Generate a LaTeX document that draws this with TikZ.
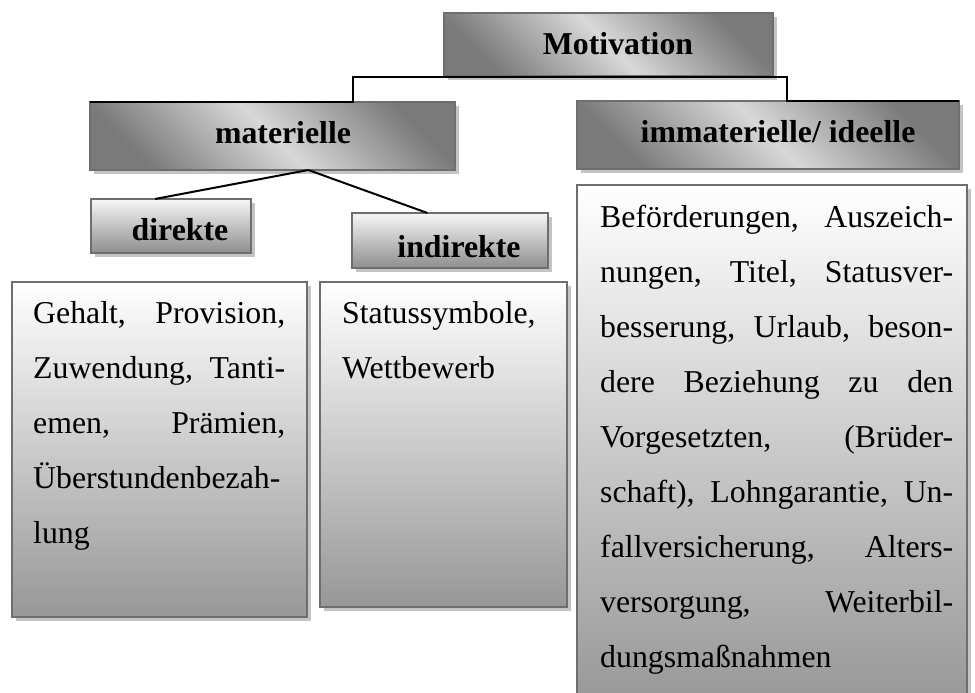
\documentclass[tikz,border=0pt]{standalone}
\usepackage{fontspec}
\setmainfont{Liberation Serif}
\usetikzlibrary{shadows,calc}

\definecolor{hddark}{HTML}{7A7A7A}
\definecolor{hdlight}{HTML}{D8D8D8}
\definecolor{framegray}{HTML}{6E6E6E}
\definecolor{shadowgray}{HTML}{C4C4C4}
\definecolor{subtop}{HTML}{F6F6F6}
\definecolor{subbottom}{HTML}{8E8E8E}
\definecolor{cnttop}{HTML}{FFFFFF}
\definecolor{cntbottom}{HTML}{979797}

% one justified line of a fixed width (words separated by \hfill)
\newcommand{\jl}[2]{\leavevmode\hbox to #1{#2}}

\begin{document}
\begin{tikzpicture}[x=1pt,y=-1pt,
  basebox/.style={draw=framegray, line width=2.5pt, inner sep=0pt, outer sep=0pt, rectangle,
    drop shadow={shadow xshift=4pt, shadow yshift=-4pt, fill=shadowgray, opacity=1}},
  headbox/.style={basebox, top color=hddark, bottom color=hddark, middle color=hdlight, shading angle=-45},
  subbox/.style={basebox, top color=subtop, bottom color=subbottom},
  contentbox/.style={basebox, top color=cnttop, bottom color=cntbottom},
  headtext/.style={font=\fontsize{31.8}{38}\selectfont\bfseries, anchor=base, inner sep=0pt},
  bodytext/.style={font=\fontsize{31.8}{55}\selectfont, anchor=base west, inner sep=0pt, align=left},
  link/.style={draw=black, line width=2pt},
]
\path[use as bounding box] (0,0) rectangle (975,693);
\clip (0,0) rectangle (975,693);
\fill[white] (0,0) rectangle (975,693);

% heading boxes
\node[headbox, minimum width=329pt, minimum height=63pt] (mot) at (608.5,44.5) {};
\node[headbox, minimum width=365pt, minimum height=68pt] (mat) at (272.5,136) {};
\node[headbox, minimum width=382pt, minimum height=68pt] (imm) at (768,135) {};

% second level boxes
\node[subbox, minimum width=160pt, minimum height=54pt] (dir) at (171,226) {};
\node[subbox, minimum width=196pt, minimum height=55pt] (ind) at (450,240.5) {};

% content boxes
\node[contentbox, minimum width=295pt, minimum height=335pt] (dbox) at (159.5,449.5) {};
\node[contentbox, minimum width=247pt, minimum height=325pt] (ibox) at (443.5,444.5) {};
\node[contentbox, minimum width=390pt, minimum height=520pt] (rbox) at (772,445) {};

% connectors
\coordinate (k1) at (353,77);
\coordinate (k2) at (787,77);
\draw[link] (mat.north west) -| (k1) -- (k2) |- (imm.north east);
\coordinate (apex) at ($(mat.south west)!0.598!(mat.south east)$);
\draw[link] (apex) -- ($(dir.north west)!0.4!(dir.north east)$);
\draw[link] (apex) -- ($(ind.north west)!0.385!(ind.north east)$);

% headings
\node[headtext] (motlabel) at (618,55) {Motivation};
\node[headtext] (matlabel) at (283,143) {materielle};
\node[headtext] (immlabel) at (778,142) {immaterielle/ ideelle};
\node[headtext] (dirlabel) at (180,240) {direkte};
\node[headtext] (indlabel) at (459,257) {indirekte};

% body texts
\node[bodytext, text width=252pt] (dtext) at (33,323) {%
\jl{252pt}{Gehalt,\hfill Provision,}\\
\jl{252pt}{Zuwendung,\hfill Tanti-}\\
\jl{252pt}{emen,\hfill Prämien,}\\
Überstundenbezah-\\
lung};
\node[bodytext, text width=210pt] (itext) at (342,323) {%
Statussymbole,\\
Wettbewerb};
\node[bodytext, text width=353pt] (rtext) at (600,227) {%
\jl{353pt}{Beförderungen,\hfill Auszeich-}\\
\jl{353pt}{nungen,\hfill Titel,\hfill Statusver-}\\
\jl{353pt}{besserung,\hfill Urlaub,\hfill beson-}\\
\jl{353pt}{dere\hfill Beziehung\hfill zu\hfill den}\\
\jl{353pt}{Vorgesetzten,\hfill (Brüder-}\\
\jl{353pt}{schaft),\hfill Lohngarantie,\hfill Un-}\\
\jl{353pt}{fallversicherung,\hfill Alters-}\\
\jl{353pt}{versorgung,\hfill Weiterbil-}\\
dungsmaßnahmen};
\end{tikzpicture}
\end{document}
